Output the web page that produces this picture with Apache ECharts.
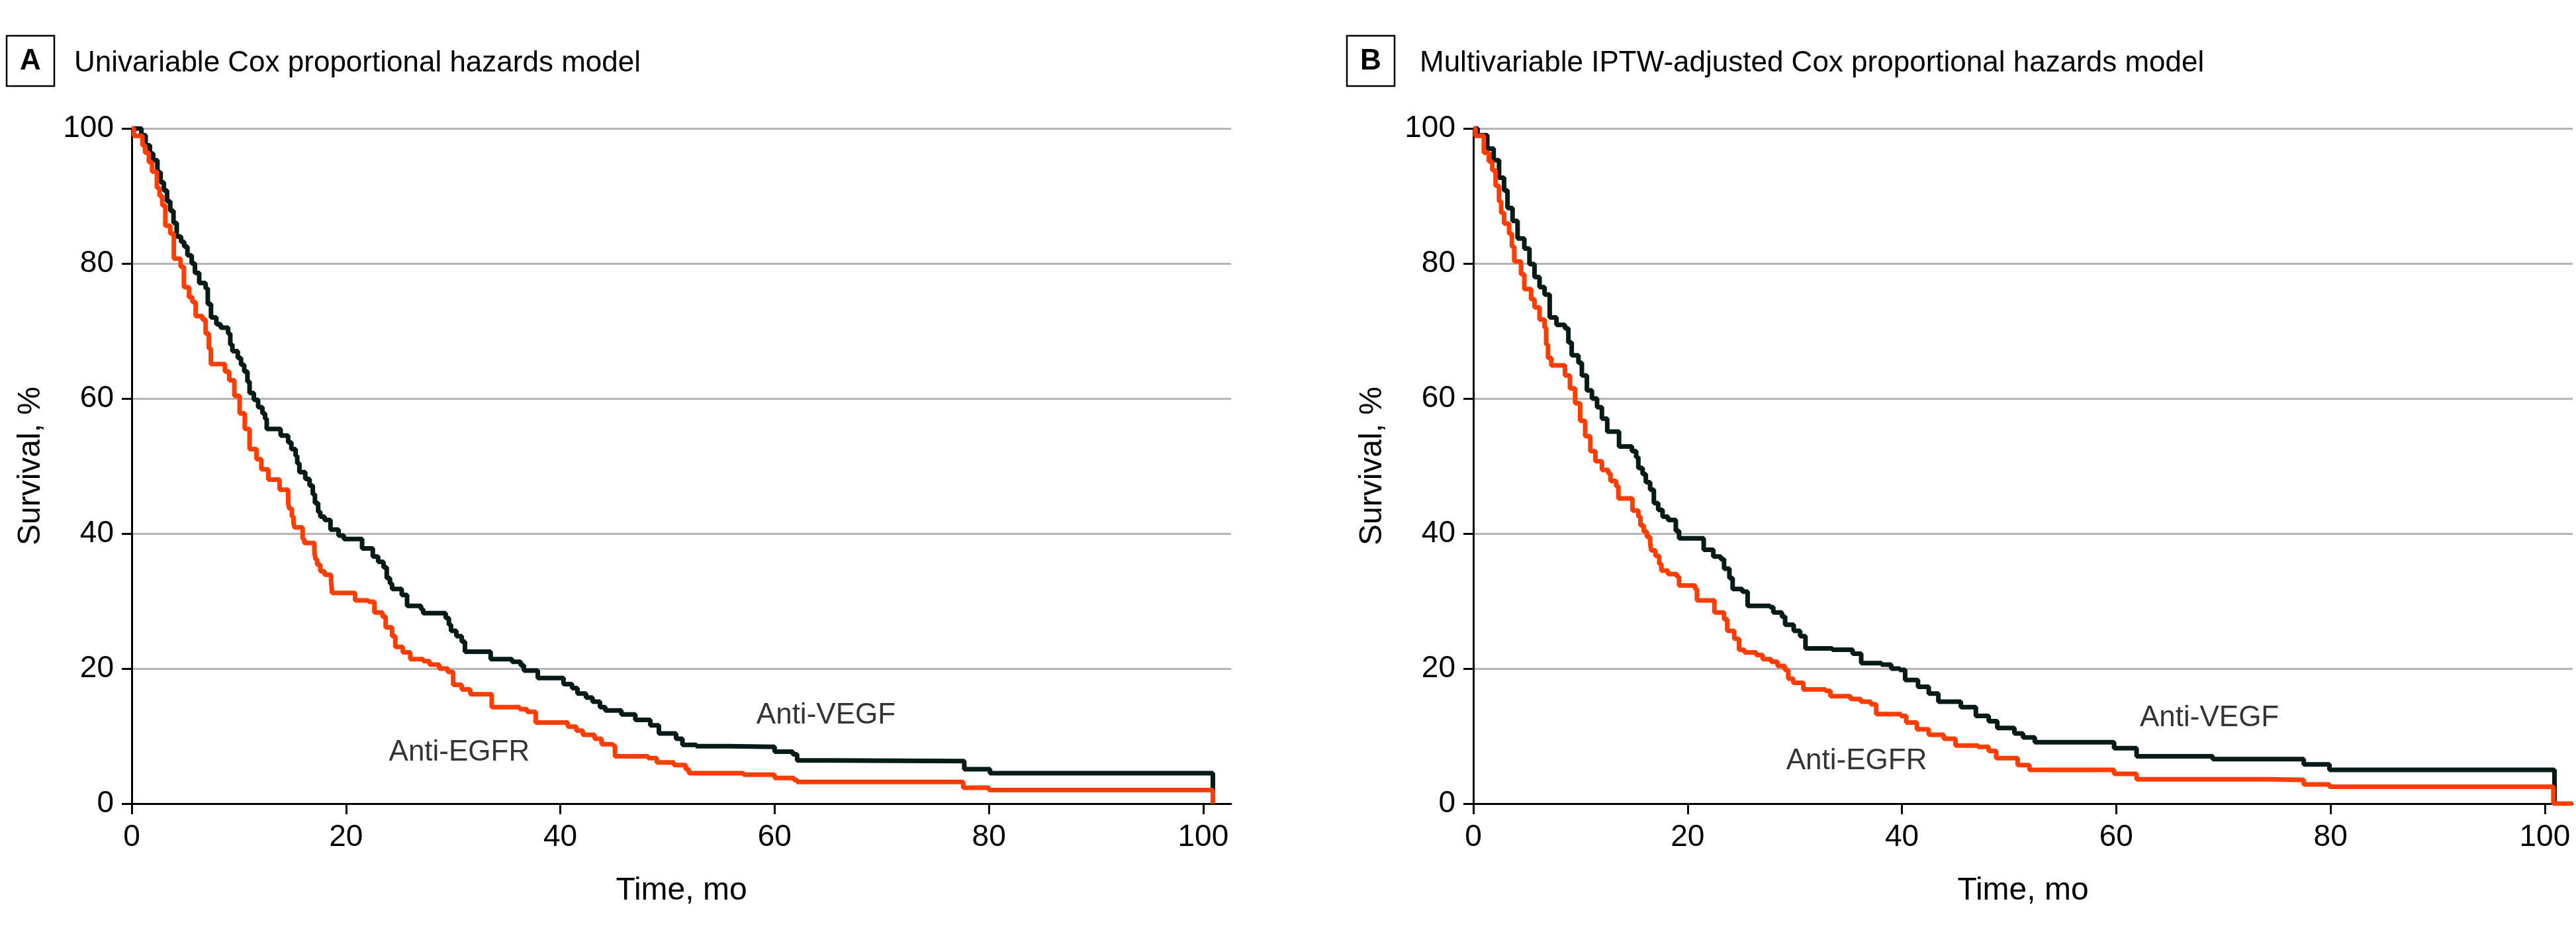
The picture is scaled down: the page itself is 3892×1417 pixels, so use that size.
<!DOCTYPE html>
<html><head><meta charset="utf-8">
<script src="https://cdn.jsdelivr.net/npm/echarts@6/dist/echarts.min.js"></script>
<style>html,body{margin:0;padding:0;background:#fff}#c{width:3892px;height:1417px}</style>
</head><body><div id="c"></div>
<script>
// ---------- data ----------
const xTicks = [0, 20, 40, 60, 80, 100];
const panelLetters = ['A', 'B'];
const panelTitles = ['Univariable Cox proportional hazards model', 'Multivariable IPTW-adjusted Cox proportional hazards model'];
const armNames = ['Anti-VEGF', 'Anti-EGFR'];
const xName = 'Time, mo';
const yName = 'Survival, %';

// Panel A (univariable) – Kaplan-Meier steps [time, survival %]
const vegfA = [[0,100],[0.9,99],[1.3,97.5],[1.7,96.3],[2.0,95.3],[2.4,93.5],[2.7,92],[3.0,90.8],[3.3,89.2],[3.6,87.8],[3.9,86],[4.2,84],[4.6,83.2],[4.9,82.5],[5.2,81.2],[5.6,80],[5.9,78.6],[6.3,77.1],[6.9,76.3],[7.1,74],[7.4,72],[7.9,71],[8.3,70.5],[9.0,69.6],[9.2,68],[9.4,67],[9.9,66],[10.2,65],[10.5,64],[10.8,62.5],[11.0,60.8],[11.4,59.8],[11.8,58.7],[12.2,57.8],[12.45,57],[12.6,55.5],[13.9,54.5],[14.6,53.5],[14.9,52.5],[15.3,51.5],[15.45,50.4],[15.65,49.1],[16.2,48.1],[16.6,47.1],[16.9,45.8],[17.1,44.5],[17.4,43.2],[17.6,42.5],[18.0,42],[18.55,40.6],[19.3,39.7],[19.8,39.2],[21.5,37.8],[22.5,36.6],[23.0,35.8],[23.5,35],[23.8,33.4],[24.1,32.6],[24.3,31.8],[25.2,30.9],[25.7,29.3],[27.0,28.8],[27.2,28.2],[29.3,27.5],[29.6,26.5],[29.8,25.6],[30.3,24.8],[30.8,24],[31.1,22.5],[33.5,21.4],[35.5,21.0],[36.3,20.5],[36.6,19.7],[37.9,18.6],[40.3,17.7],[41.1,17.1],[41.6,16.3],[42.4,15.7],[43.0,15.1],[43.7,14.3],[44.2,13.8],[45.7,13.2],[47.0,12.4],[48.4,11.6],[49.2,10.4],[50.8,9.6],[51.4,8.7],[52.7,8.5],[55.8,8.4],[60.0,7.7],[61.7,7.3],[62.1,6.4],[65.1,6.3],[77.7,5.1],[80.1,4.5],[100.9,0]];
const egfrA = [[0,100],[0.2,98.9],[1.0,97.5],[1.25,96.4],[1.6,95],[1.9,93.6],[2.35,91.2],[2.6,90],[2.85,88.6],[3.14,85.6],[3.6,84.4],[3.93,80.7],[4.56,79.5],[4.87,76.5],[5.35,75],[5.66,74.3],[5.97,72.2],[6.6,71.7],[6.9,69.6],[7.2,67.4],[7.39,65.1],[8.7,64],[9.1,62.7],[9.58,60.4],[10.07,57.8],[10.55,55.5],[11.0,52.5],[11.65,51],[12.1,49.5],[12.75,48],[13.8,46.5],[14.6,44.5],[14.7,43.7],[14.95,42.5],[15.1,41.5],[15.2,40.9],[15.95,39.2],[16.1,38.6],[17.05,37.2],[17.15,36.2],[17.3,35.4],[17.6,34.4],[18.0,33.9],[18.6,33.1],[18.7,31.2],[20.85,30.1],[22.1,29.9],[22.65,28.3],[23.4,27.7],[23.7,26.1],[24.3,24.8],[24.6,23.2],[25.3,22.4],[26.0,21.4],[27.2,21.1],[27.8,20.6],[28.7,20.0],[29.5,19.5],[30.0,17.6],[30.8,16.9],[31.6,16.2],[33.6,14.3],[36.2,14.0],[36.9,13.6],[37.7,12.0],[40.7,11.4],[41.5,10.8],[42.1,10.2],[43.2,9.6],[43.85,8.8],[44.9,8.6],[45.1,7.0],[48.2,6.75],[49.0,6.1],[50.6,5.7],[51.7,5.1],[52.0,4.5],[57.1,4.3],[60.0,3.8],[61.8,3.5],[62.1,3.2],[77.6,2.35],[80.0,2.0],[100.9,0]];

// Panel B (IPTW-adjusted)
const vegfB = [[0,100],[0.4,99],[1.3,97],[1.9,95.3],[2.4,92.7],[2.87,90.8],[3.19,88.2],[3.66,86.3],[4.13,83.7],[4.76,82.2],[5.24,79.9],[5.71,78],[6.18,76.5],[6.65,75.4],[7.13,72],[7.76,70.9],[8.55,70.4],[8.87,68.3],[9.18,66.4],[9.81,65.3],[10.13,63.4],[10.6,61.2],[11.07,60],[11.55,58.7],[12.0,57],[12.5,55.1],[13.6,52.9],[14.8,52.2],[15.2,51.3],[15.4,49.7],[15.8,48.8],[16.1,47.6],[16.5,46.5],[16.85,44.5],[17.25,43.5],[17.66,42.5],[18.17,42],[18.9,40.4],[19.2,39.3],[21.5,37.6],[22.4,36.6],[23.1,36.2],[23.4,34.8],[23.9,33.4],[24.2,31.8],[25.1,31.4],[25.6,29.3],[27.7,29.1],[28.0,28.3],[28.8,27.7],[29.1,26.5],[29.9,25.6],[30.5,24.8],[31.0,23.0],[33.5,22.8],[35.4,22.2],[36.2,20.8],[38.1,20.6],[39.0,20.0],[39.8,19.8],[40.3,18.3],[41.5,17.3],[42.5,16.3],[43.4,15.1],[45.5,14.3],[46.9,13.0],[48.1,12.2],[48.9,11.2],[50.5,10.4],[51.3,9.8],[52.4,9.1],[59.8,8.2],[61.9,7.0],[69.0,6.6],[77.5,5.8],[79.9,5.0],[100.9,0]];
const egfrB = [[0,100],[0.19,98.9],[0.98,96.4],[1.45,95.1],[1.77,93.8],[2.08,91.5],[2.4,89.2],[2.6,87.5],[2.87,85.9],[3.34,84.4],[3.6,82.5],[3.82,80.3],[4.45,78.4],[4.76,76.2],[5.39,74.7],[5.71,73.5],[6.18,71.7],[6.65,70.5],[6.8,68],[6.97,66],[7.28,64.9],[8.55,63.4],[9.02,61.5],[9.5,59.3],[9.97,56.7],[10.44,54.4],[10.92,52.2],[11.39,50.7],[12.0,49.4],[12.6,48.9],[12.8,47.8],[13.33,47.0],[13.54,45.2],[14.85,43.4],[15.4,42.5],[15.6,41.2],[15.9,40.3],[16.2,39.5],[16.5,38.6],[16.6,37.5],[17.0,36.7],[17.35,35.5],[17.55,34.5],[18.17,34.0],[19.0,33.6],[19.2,32.3],[20.7,31.8],[20.87,30.1],[22.5,28.3],[23.4,27.3],[23.7,25.6],[24.35,24.4],[24.8,22.8],[25.3,22.4],[26.4,22.0],[27.0,21.4],[27.8,21.0],[28.4,20.4],[29.07,19.8],[29.39,18.5],[29.86,17.9],[30.8,16.9],[32.87,16.7],[33.33,15.9],[35.2,15.5],[36.17,15.1],[37.1,14.7],[37.6,13.25],[39.9,13.0],[40.4,12.0],[41.4,11.0],[42.5,10.2],[43.9,9.6],[45.0,8.6],[47.1,8.4],[48.1,7.8],[48.8,6.75],[50.8,5.7],[51.9,5.0],[59.8,4.4],[61.9,3.6],[74.4,3.5],[77.5,2.85],[79.9,2.5],[100.8,0],[102.6,0]];

// ---------- styling / layout ----------
const FONT = '"Liberation Sans", Arial, sans-serif';
const COL_VEGF = '#061a18';
const COL_EGFR = '#ff3d00';
const GRID_COL = '#b4b4b4';

const panels = [
  { left: 199, vegf: vegfA, egfr: egfrA, vegfLbl: [58.3, 13.1], egfrLbl: [24.0, 7.6], box: 10, text: 112 },
  { left: 2226, vegf: vegfB, egfr: egfrB, vegfLbl: [62.2, 12.7], egfrLbl: [29.2, 6.3], box: 2035, text: 2145 }
];

const grids = [], xAxes = [], yAxes = [], series = [], graphics = [];
panels.forEach((p, i) => {
  grids.push({ left: p.left, top: 194, width: 1661, height: 1020, containLabel: false });
  xAxes.push({
    gridIndex: i, type: 'value', min: 0, max: 102.6, interval: 20,
    name: xName, nameLocation: 'middle', nameGap: 108,
    nameTextStyle: { fontFamily: FONT, fontSize: 48, color: '#000' },
    axisLine: { show: true, lineStyle: { color: '#000', width: 3 } },
    axisTick: { show: true, length: 16, lineStyle: { color: '#000', width: 3 }, customValues: xTicks },
    axisLabel: { show: true, margin: 28, fontFamily: FONT, fontSize: 46, color: '#000', customValues: xTicks },
    splitLine: { show: false }
  });
  yAxes.push({
    gridIndex: i, type: 'value', min: 0, max: 100, interval: 20,
    name: yName, nameLocation: 'middle', nameGap: 128,
    nameTextStyle: { fontFamily: FONT, fontSize: 48, color: '#000' },
    axisLine: { show: true, lineStyle: { color: '#000', width: 3 } },
    axisTick: { show: true, length: 15, lineStyle: { color: '#000', width: 3 } },
    axisLabel: { show: true, margin: 27, fontFamily: FONT, fontSize: 46, color: '#000' },
    splitLine: { show: true, lineStyle: { color: GRID_COL, width: 3 } }
  });
  series.push({
    type: 'line', xAxisIndex: i, yAxisIndex: i, step: 'end', symbol: 'none', name: armNames[0],
    lineStyle: { color: COL_VEGF, width: 7 }, data: p.vegf, z: 3
  });
  series.push({
    type: 'line', xAxisIndex: i, yAxisIndex: i, step: 'end', symbol: 'none', name: armNames[1],
    lineStyle: { color: COL_EGFR, width: 7 }, data: p.egfr, z: 4
  });
  [[p.vegfLbl, armNames[0]], [p.egfrLbl, armNames[1]]].forEach(([pos, txt]) => {
    series.push({
      type: 'scatter', xAxisIndex: i, yAxisIndex: i, symbolSize: 0, silent: true, z: 5,
      data: [pos],
      label: { show: true, position: [0, 0], align: 'left', verticalAlign: 'middle',
        formatter: txt, fontFamily: FONT, fontSize: 44, color: '#000' }
    });
  });
  graphics.push({ type: 'rect', shape: { x: p.box, y: 54, width: 72, height: 76 },
    style: { fill: 'none', stroke: '#000', lineWidth: 2.5 } });
  graphics.push({ type: 'text', x: p.box + 36, y: 93,
    style: { text: panelLetters[i], font: 'bold 44px ' + FONT, fill: '#000', align: 'center', verticalAlign: 'middle' } });
  graphics.push({ type: 'text', x: p.text, y: 96,
    style: { text: panelTitles[i], font: '44px ' + FONT, fill: '#000', align: 'left', verticalAlign: 'middle' } });
});

const chart = echarts.init(document.getElementById('c'), null, { renderer: 'canvas' });
chart.setOption({
  animation: false,
  backgroundColor: '#fff',
  grid: grids, xAxis: xAxes, yAxis: yAxes, series: series,
  graphic: graphics
});
</script></body></html>
